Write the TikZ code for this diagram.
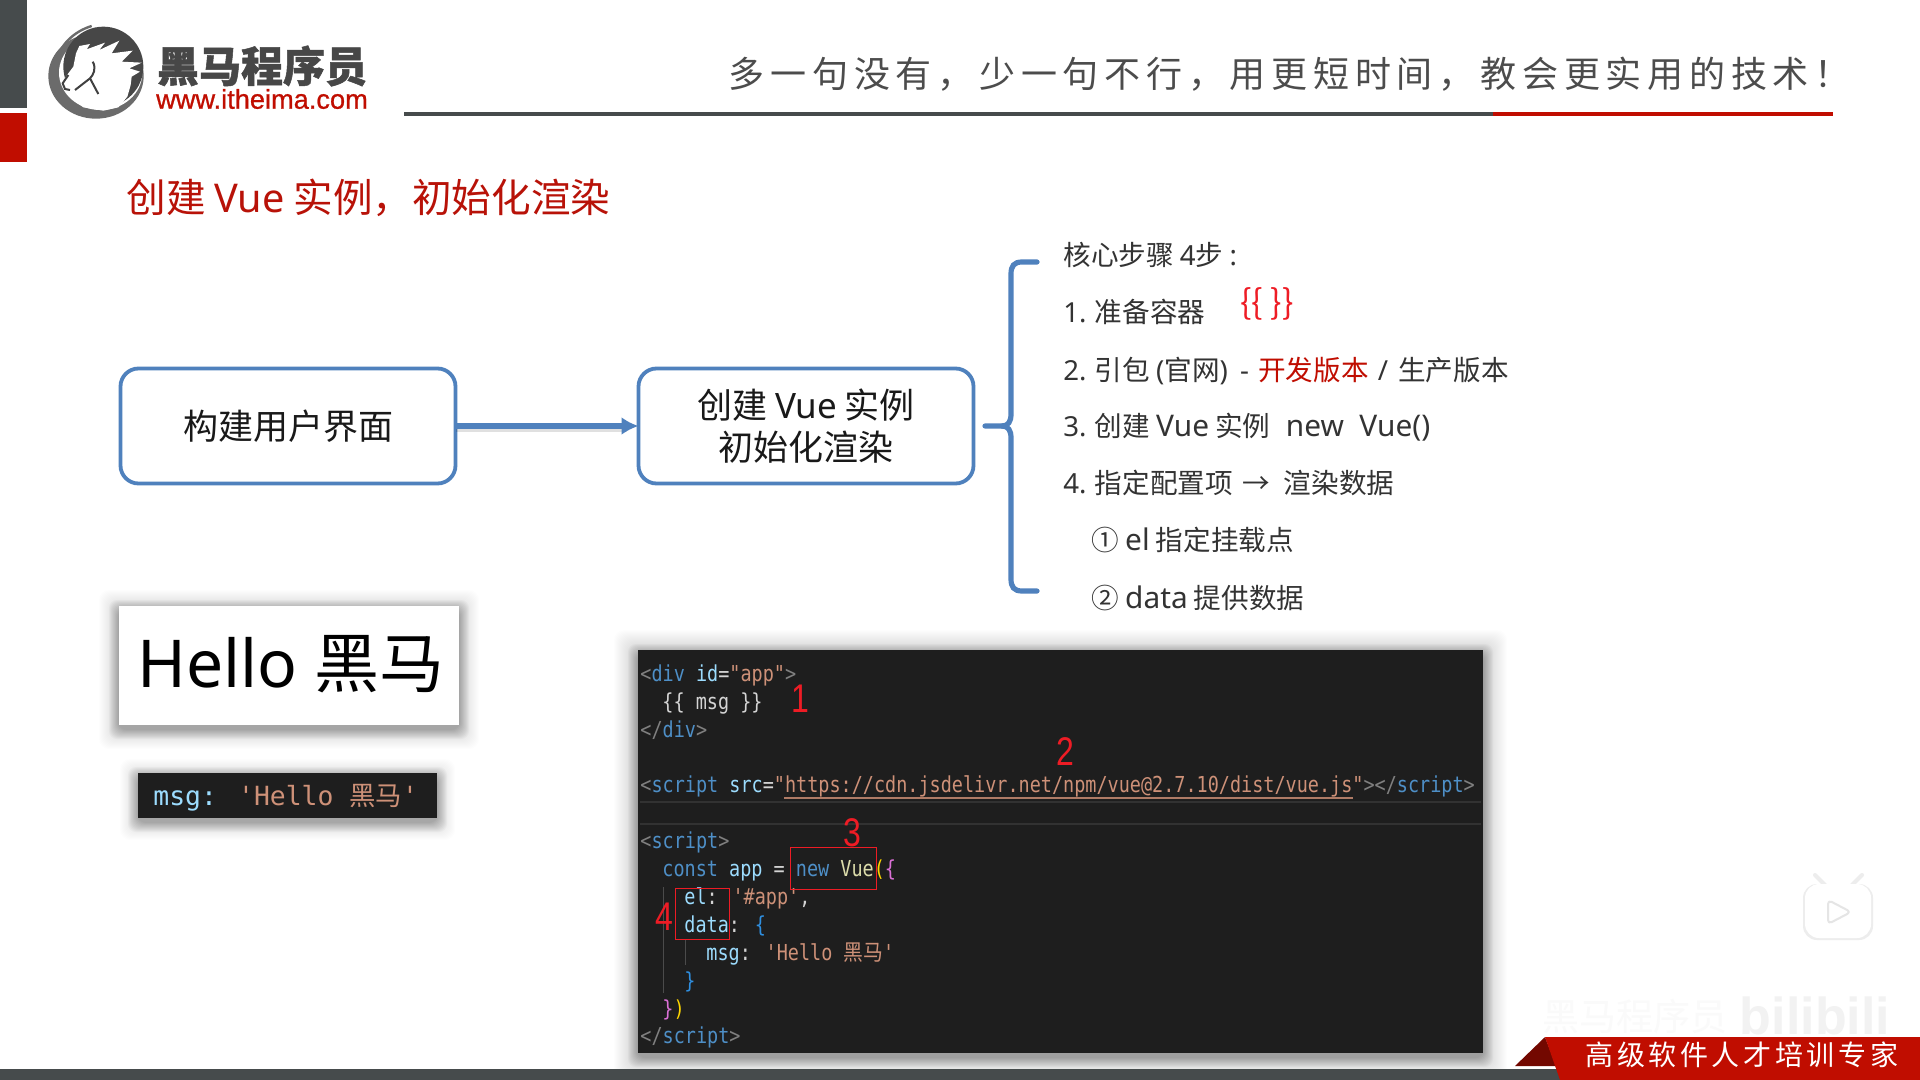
\documentclass[tikz,border=0pt]{standalone}
\usepackage{fontspec}
\usetikzlibrary{arrows.meta}
\setmainfont{Noto Sans CJK SC}
\newfontfamily\cjk{Noto Sans CJK SC}
\newfontfamily\lat{Noto Sans}
\newfontfamily\latb{Noto Sans}[Scale=1.08]
\newfontfamily\cjkbold{Noto Sans CJK SC}[BoldFeatures={FakeBold=1.2}]
\newfontfamily\cjkwm{Noto Sans CJK SC}
\newfontfamily\slogan{Noto Sans CJK SC}[LetterSpace=16]
\newfontfamily\banner{Noto Sans CJK SC}[LetterSpace=13]
\newfontfamily\webfont{Liberation Sans}[FakeBold=0.8]
\newfontfamily\wmfont{Liberation Sans}
\newfontfamily\codefont{DejaVu Sans Mono}[FakeStretch=0.84]
\newfontfamily\msgfont{DejaVu Sans Mono}
\newfontfamily\cjkcode{Noto Sans CJK SC}[FakeStretch=0.9]
\newfontfamily\numfont{Liberation Sans}[FakeStretch=0.8]
\definecolor{barGray}{HTML}{464B4C}
\definecolor{brandRed}{HTML}{C00D00}
\definecolor{titleRed}{HTML}{B81208}
\definecolor{boxBlue}{HTML}{4F81BD}
\definecolor{codeBg}{HTML}{1E1E1E}
\definecolor{ctag}{HTML}{4E8FC7}
\definecolor{cbr}{HTML}{808080}
\definecolor{cattr}{HTML}{9CDCFE}
\definecolor{cstr}{HTML}{CE9178}
\definecolor{ctxt}{HTML}{D4D4D4}
\definecolor{cfn}{HTML}{DCDCAA}
\definecolor{cyel}{HTML}{FFD700}
\definecolor{cpur}{HTML}{DA70D6}
\definecolor{cblu}{HTML}{2F8FE0}
\definecolor{annRed}{HTML}{EE1C25}
\newcommand{\fs}[1]{\fontsize{#1}{#1}\selectfont}
\newcommand{\cc}[2]{\textcolor{#1}{#2}}
\newcommand{\la}[1]{{\lat #1}}
\newcommand{\lb}[1]{{\latb #1}}
\newcommand{\softshadow}[5]{%
  \foreach \d in {1,...,#5}{\fill[black,opacity=0.007,rounded corners=5pt] (#1-\d,#2-\d+4) rectangle (#3+\d,#4+\d+4);}%
  \foreach \d in {1,...,10}{\fill[black,opacity=0.024,rounded corners=4pt] (#1-\d,#2-\d+4) rectangle (#3+\d,#4+\d+4);}%
}
\tikzset{
  flowbox/.style={draw=boxBlue,line width=1.9pt,rounded corners=9pt,fill=white,minimum width=167.5pt,minimum height=57.5pt,inner sep=0pt,outer sep=0pt,align=center,font=\fs{17.5},text=black!90,anchor=north west},
  steptext/.style={anchor=base west,inner sep=0pt,font=\fs{13.8},text=black!80},
  codeline/.style={anchor=base west,inner sep=0pt,font=\codefont\fs{11},text=ctxt},
  annnum/.style={anchor=center,inner sep=0pt,font=\numfont\fs{20},text=annRed},
  annbox/.style={draw=annRed,line width=0.5pt},
  bluepath/.style={draw=boxBlue,line width=2.6pt,line cap=round}
}
\begin{document}
\begin{tikzpicture}[x=0.5pt,y=-0.5pt]
\useasboundingbox (0,0) rectangle (1920,1080);
\fill[white] (0,0) rectangle (1920,1080);
% side bars
\fill[barGray] (0,0) rectangle (27,108);
\fill[brandRed] (0,113) rectangle (27,162);
% logo
\begin{scope}[shift={(40,20)},x=0.1667pt,y=-0.1667pt]
 \fill[black!58] (168,168) ellipse [x radius=143,y radius=128];
 \fill[white] (182,158) ellipse [x radius=125,y radius=112];
 \fill[black!72] (190,140) circle (120);
 \fill[white] (75,212) -- (65,190) -- (85,160) -- (100,140) -- (108,100) -- (118,78) -- (150,72) -- (140,88) -- (195,68) -- (178,90) -- (238,62) -- (215,100) -- (278,92) -- (245,125) -- (305,128) -- (268,145) -- (300,155) -- (275,170) -- (272,195) -- (262,230) -- (235,262) -- (190,272) -- (130,262) -- (95,235) -- cycle;
 \draw[black!58,line width=1.2pt] (155,18) .. controls (100,35) and (60,75) .. (45,130);
 \draw[black!75,line width=1pt] (158,125) .. controls (170,145) and (160,165) .. (150,175) -- (105,210);
 \draw[black!75,line width=1pt] (150,175) -- (175,222);
 \draw[black!75,line width=1pt] (85,165) -- (68,190) -- (75,207) -- (90,210);
\end{scope}
\node[anchor=center,inner sep=0pt,font=\cjkbold\bfseries\fs{21},text=black!72] (brand) at (262,66) {黑马程序员};
\node[anchor=center,inner sep=0pt,font=\webfont\fs{13.6},text=brandRed] (web) at (262,99) {www.itheima.com};
% header rule and slogan
\draw[barGray,line width=1.6pt] (404,114) -- (1493,114);
\draw[brandRed,line width=1.6pt] (1493,114) -- (1833,114);
\node[anchor=east,inner sep=0pt,font=\slogan\fs{18},text=black!70] (sloganT) at (1851,74) {多一句没有，少一句不行，用更短时间，教会更实用的技术！};
% title
\node[anchor=west,inner sep=0pt,font=\fs{19.8},text=titleRed] (title) at (126,198) {创建 \la{Vue} 实例，初始化渲染};
% flow boxes
\node[flowbox] (boxA) at (120.5,368.5) {构建用户界面};
\node[flowbox] (boxB) at (638.5,368.5) {创建 \la{Vue} 实例\\[3.6pt]初始化渲染};
\draw[black,opacity=0.12,line width=2.4pt] ([yshift=-1.6pt]boxA.east) -- ([xshift=-6pt,yshift=-1.6pt]boxB.west);
\draw[boxBlue,line width=3pt,-{Latex[length=8.5pt,width=9pt]}] (boxA.east) -- (boxB.west);
% brace
\coordinate (brTop) at (1037,262);
\coordinate (brBot) at (1037,591);
\coordinate (brMid) at (985,426);
\draw[bluepath] (brTop) -- (1022,262) .. controls (1014,262) and (1011,266) .. (1011,274) -- (1011,414) .. controls (1011,422) and (1008,426) .. (1002,426) -- (brMid);
\draw[bluepath] (brBot) -- (1022,591) .. controls (1014,591) and (1011,587) .. (1011,579) -- (1011,438) .. controls (1011,430) and (1008,426) .. (1002,426);
% steps
\node[steptext] (s0) at (1063,266) {核心步骤 \la{4}步 \la{:}};
\node[steptext] (s1) at (1063,322) {\la{1.} 准备容器};
\node[steptext] (s2) at (1063,380) {\la{2.} 引包 \la{(}官网\la{)\hspace{2.5pt} -}\hspace{1.5pt} \cc{brandRed}{开发版本}\hspace{1.5pt} \la{/}\hspace{2pt} 生产版本};
\node[steptext] (s3) at (1063,436) {\la{3.} 创建 \lb{Vue} 实例\lb{~~new~~Vue()}};
\node[steptext] (s4) at (1063,493) {\la{4.} 指定配置项\hspace{1.5pt} →\hspace{1pt}~~渲染数据};
\node[steptext] (s5) at (1091,550) {① \lb{el} 指定挂载点};
\node[steptext] (s6) at (1091,608) {② \lb{data} 提供数据};
\node[anchor=center,inner sep=0pt,font=\fs{17},text=annRed] (mustache) at (1267,304) {\{\{ \}\}};
% Hello card with soft shadow
\softshadow{119}{606}{459}{725}{20}
\node[anchor=north west,fill=white,minimum width=170pt,minimum height=59.5pt,inner sep=0pt,outer sep=0pt] (hello) at (119,606) {};
\node[anchor=base west,inner sep=0pt,font=\fs{32.5},text=black] (helloT) at (137,687) {{\lat\fs{33}Hello}\hspace{1pt} 黑马};
% msg box
\softshadow{138}{773}{437}{818}{18}
\fill[codeBg] (138,773) rectangle (437,818);
\node[anchor=base west,inner sep=0pt,font=\msgfont\fs{13.2}] (msgT) at (153,805) {\cc{cattr}{msg:} \cc{cstr}{'Hello {\cjk 黑马}'}};
% code panel
\softshadow{638}{650}{1483}{1053}{24}
\fill[codeBg] (638,650) rectangle (1483,1053);
\draw[white!9!codeBg,line width=0.6pt] (640,802) -- (1481,802);
\draw[white!9!codeBg,line width=0.6pt] (640,824) -- (1481,824);
\draw[white!20!codeBg,line width=0.5pt] (663,887) -- (663,993);
\draw[white!20!codeBg,line width=0.5pt] (685,940) -- (685,965);
\node[codeline] (c1) at (640,681) {\cc{cbr}{<}\cc{ctag}{div} \cc{cattr}{id}=\cc{cstr}{"app"}\cc{cbr}{>}};
\node[codeline] (c2) at (662,709) {\{\{ msg \}\}};
\node[codeline] (c3) at (640,737) {\cc{cbr}{</}\cc{ctag}{div}\cc{cbr}{>}};
\node[codeline] (c4) at (640,792) {\cc{cbr}{<}\cc{ctag}{script} \cc{cattr}{src}=\cc{cstr}{"https://cdn.jsdelivr.net/npm/vue@2.7.10/dist/vue.js"}\cc{cbr}{></}\cc{ctag}{script}\cc{cbr}{>}};
\draw[cstr!85!black,line width=0.7pt] (784,798) -- (1353,798);
\node[codeline] (c5) at (640,848) {\cc{cbr}{<}\cc{ctag}{script}\cc{cbr}{>}};
\node[codeline] (c6) at (662,876) {\cc{ctag}{const} \cc{cattr}{app} = \cc{ctag}{new} \cc{cfn}{Vue}\cc{cyel}{(}\cc{cpur}{\{}};
\node[codeline] (c7) at (684,904) {\cc{cattr}{el}: \cc{cstr}{'\#app'},};
\node[codeline] (c8) at (684,932) {\cc{cattr}{data}: \cc{cblu}{\{}};
\node[codeline] (c9) at (706,960) {\cc{cattr}{msg}: \cc{cstr}{'Hello {\cjkcode 黑马}'}};
\node[codeline] (c10) at (684,988) {\cc{cblu}{\}}};
\node[codeline] (c11) at (662,1016) {\cc{cpur}{\}}\cc{cyel}{)}};
\node[codeline] (c12) at (640,1043) {\cc{cbr}{</}\cc{ctag}{script}\cc{cbr}{>}};
% annotations
\node[annnum] (n1) at (800,699) {1};
\node[annnum] (n2) at (1065,752) {2};
\node[annnum] (n3) at (852,833) {3};
\node[annnum] (n4) at (664,917) {4};
\draw[annbox] (790,847) rectangle (876,889);
\draw[annbox] (675,888) rectangle (729,939);
% faint watermarks
\node[anchor=base,inner sep=0pt,font=\cjkwm\fs{18.5},text=black!2] (wm1) at (1635,1030) {黑马程序员};
\node[anchor=base,inner sep=0pt,font=\wmfont\bfseries\fs{26},text=black!5] (wm2) at (1815,1034) {bilibili};
% TV icon
\draw[black!7,line width=2pt,line cap=round] (1825,885) -- (1815,875);
\draw[black!7,line width=2pt,line cap=round] (1852,885) -- (1862,875);
\fill[black!7,rounded corners=7pt] (1803,884) rectangle (1873,940);
\fill[white,rounded corners=7pt] (1805,884) rectangle (1871,938);
\draw[black!10,line width=1pt,line join=round,rounded corners=2pt,fill=white] (1828,900) -- (1851,912) -- (1828,924) -- cycle;
% bottom bar and banner
\fill[barGray] (0,1069) rectangle (1570,1080);
\fill[brandRed!60!black] (1545,1037) -- (1515,1066) -- (1556,1066) -- cycle;
\fill[brandRed] (1545,1037) -- (1920,1037) -- (1920,1080) -- (1560,1080) -- cycle;
\node[anchor=west,inner sep=0pt,font=\banner\fs{14},text=white] (bannerT) at (1585,1055) {高级软件人才培训专家};
\end{tikzpicture}
\end{document}
